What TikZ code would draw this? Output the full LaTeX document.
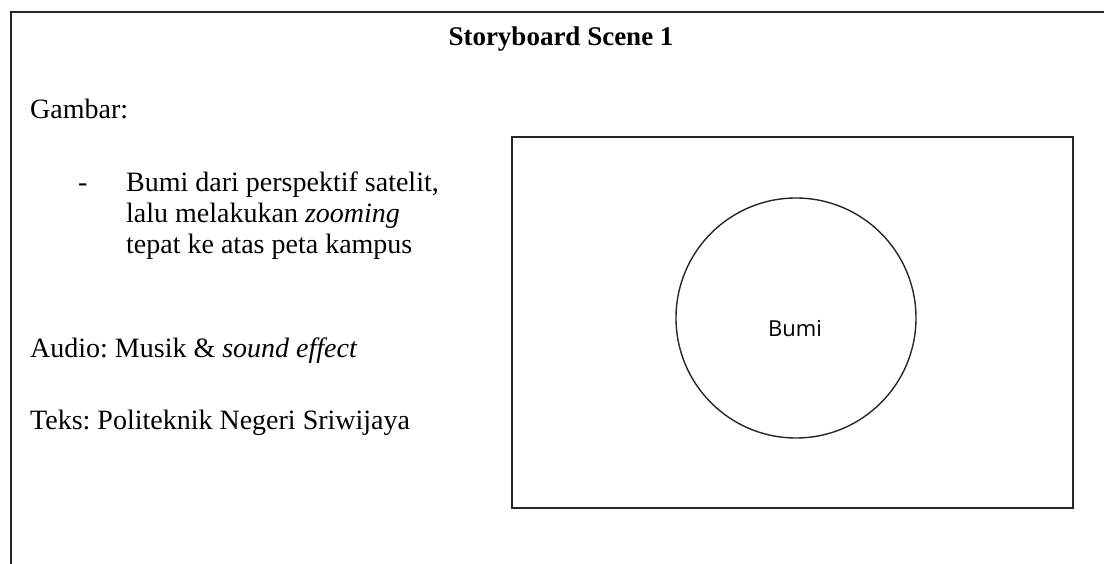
\documentclass[tikz,border=0pt]{standalone}
\usepackage{fontspec}
\setmainfont{Liberation Serif}
\newfontfamily\labelfont{Open Sans}
\usetikzlibrary{positioning}
\frenchspacing
\tikzset{
  sheet/.style={line width=2pt,draw=black!85},
  panel/.style={line width=1.8pt,draw=black!85},
  planet/.style={circle,draw=black!85,line width=1.4pt,minimum size=240pt,inner sep=0pt},
  heading/.style={font=\fontsize{27}{32}\selectfont\bfseries,inner sep=0pt,anchor=base},
  entry/.style={font=\fontsize{28}{33}\selectfont,inner sep=0pt,anchor=base west},
  tag/.style={font=\labelfont\fontsize{22}{26}\selectfont,inner sep=0pt,anchor=base}
}

\begin{document}
\begin{tikzpicture}[x=1pt,y=-1pt]
  \useasboundingbox (0,0) rectangle (1104,564);
  % frame of the sheet (runs off right and bottom)
  \draw[sheet] (11,564) -- (11,12) -- (1104,12);
  \node[heading] (title) at (561,46) {Storyboard Scene 1};

  % left column: scene notes
  \node[entry] (gambar) at (30,119) {Gambar:};
  \node[entry] (dash) at (78,192) {-};
  \node[entry] (line1) at (126,192) {Bumi dari perspektif satelit,};
  \node[entry] (line2) at (126,223) {lalu melakukan \textit{zooming}};
  \node[entry] (line3) at (126,254) {tepat ke atas peta kampus};
  \node[entry] (audio) at (30,357) {Audio: Musik \& \textit{sound effect}};
  \node[entry] (teks) at (30,429) {Teks: Politeknik Negeri Sriwijaya};

  % right column: the shot
  \draw[panel] (512,137) rectangle (1073,508);
  \node[planet] (earth) at (796,318) {};
  \node[tag] (bumi) at (795,337) {Bumi};
\end{tikzpicture}
\end{document}
